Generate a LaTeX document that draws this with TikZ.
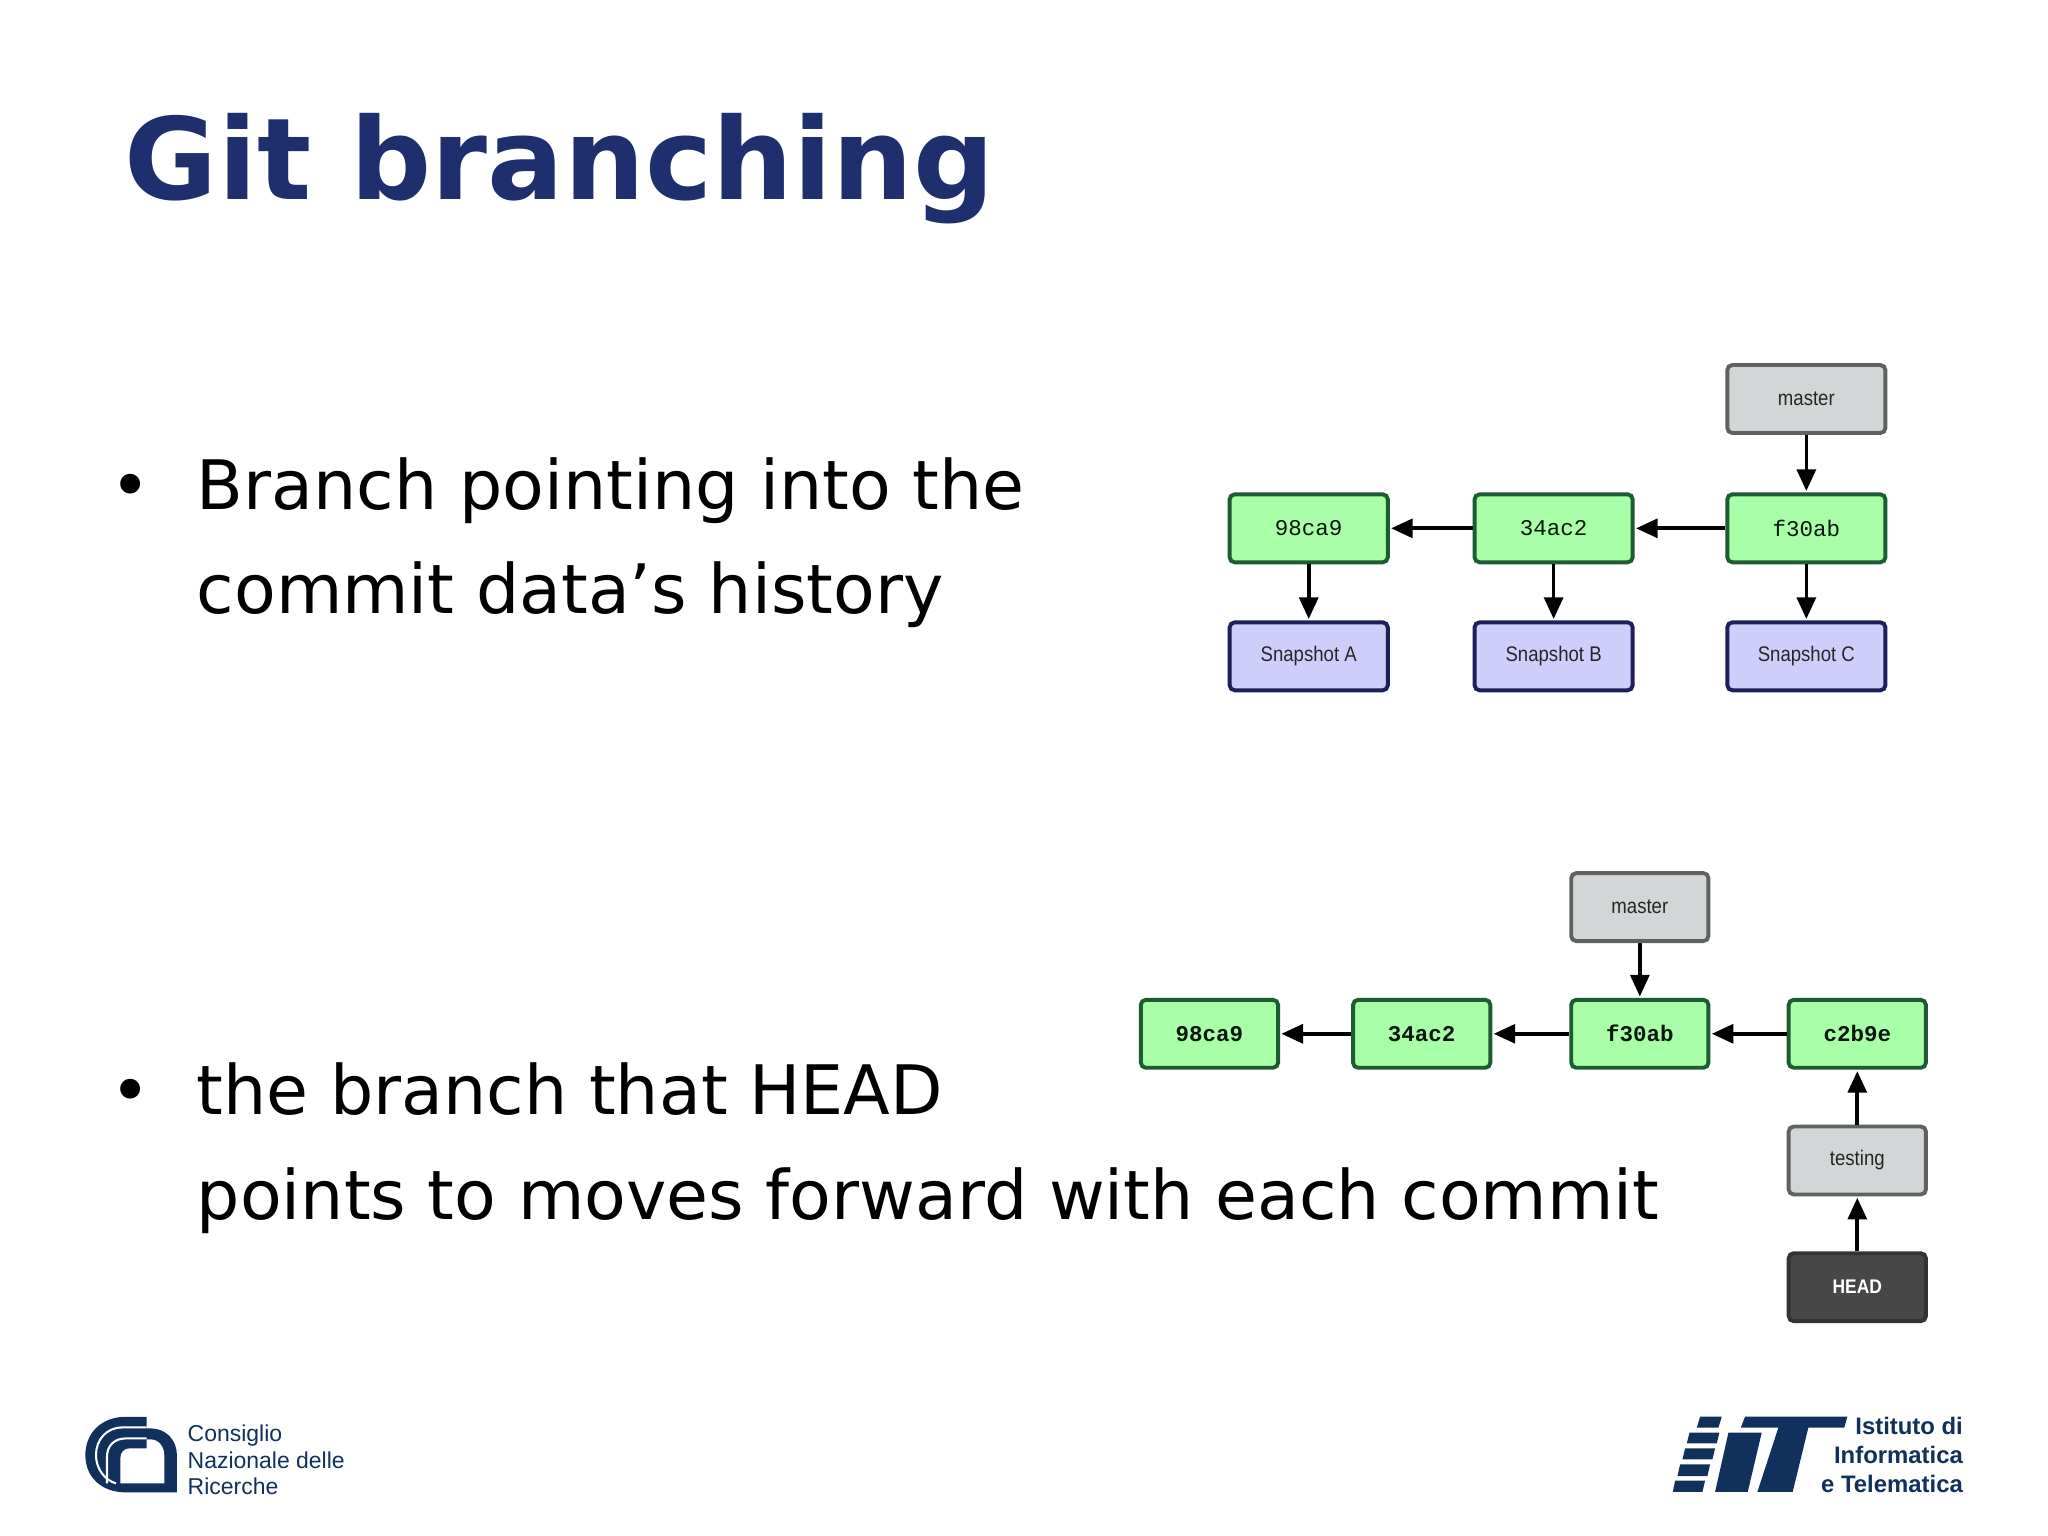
\documentclass[tikz,border=0pt]{standalone}
\usepackage{fontspec}
\setmainfont{DejaVu Sans}
\newfontfamily\boxsans[FakeStretch=.88]{Liberation Sans}
\newfontfamily\logosans{Liberation Sans}
\newfontfamily\boxmono{Liberation Mono}
\usetikzlibrary{arrows.meta}
\definecolor{titleblue}{HTML}{1F2F6E}
\definecolor{logoblue}{HTML}{12305C}
\definecolor{cgreen}{HTML}{A8FFA8}
\definecolor{cgreend}{HTML}{1E5A32}
\definecolor{cblue}{HTML}{CFCEFB}
\definecolor{cblued}{HTML}{1E1E5A}
\definecolor{cgray}{HTML}{D2D6D6}
\definecolor{cgrayd}{HTML}{606262}
\definecolor{cdark}{HTML}{474747}
\definecolor{cdarkd}{HTML}{333333}
\tikzset{
  bx/.style={draw,line width=.85pt,rounded corners=1.1pt,inner sep=0pt,minimum height=.52cm},
  wide/.style={minimum width=1.21cm},
  narrow/.style={minimum width=1.05cm},
  commit/.style={bx,fill=cgreen,draw=cgreend,text=black!75!cgreend,font=\boxmono\fontsize{4.9}{5}\selectfont},
  commitb/.style={commit,font=\boxmono\fontsize{4.9}{5}\selectfont\bfseries},
  snap/.style={bx,fill=cblue,draw=cblued,text=black!85,font=\boxsans\fontsize{4.6}{5}\selectfont},
  ref/.style={bx,fill=cgray,draw=cgrayd,text=black!85,font=\boxsans\fontsize{4.6}{5}\selectfont},
  headbox/.style={bx,fill=cdark,draw=cdarkd,text=white,font=\boxsans\fontsize{4.3}{5}\selectfont\bfseries},
  link/.style={draw=black,line width=.8pt,-{Triangle[length=4.7pt,width=4.1pt]},shorten >=.3pt},
  bodytext/.style={anchor=base west,inner sep=0pt,font=\fontsize{14.85}{18}\selectfont},
  logotext/.style={anchor=base west,inner sep=0pt,text=logoblue,font=\logosans\fontsize{5}{6}\selectfont},
  logotextb/.style={anchor=base east,inner sep=0pt,text=logoblue,font=\logosans\bfseries\fontsize{5.2}{6}\selectfont},
}
\begin{document}
\begin{tikzpicture}[x=.01cm,y=-.01cm]
\useasboundingbox (0,0) rectangle (1568,1176);
\fill[white] (0,0) rectangle (1568,1176);
% title
\node[anchor=base west,inner sep=0pt,text=titleblue,font=\fontsize{24.7}{28}\selectfont\bfseries] (title) at (95,153) {Git branching};
% bullets
\node[bodytext] (b1) at (84,390) {•};
\node[bodytext] (t1a) at (150,390) {Branch pointing into the};
\node[bodytext] (t1b) at (150,470) {commit data’s history};
\node[bodytext] (b2) at (84,853) {•};
\node[bodytext] (t2a) at (150,853) {the branch that HEAD};
\node[bodytext] (t2b) at (150,934) {points to moves forward with each commit};
% upper diagram
\node[ref,wide] (m1) at (1383,305.5) {master};
\node[commit,wide] (a1) at (1002,404.5) {98ca9};
\node[commit,wide] (a2) at (1189.5,404.5) {34ac2};
\node[commit,wide] (a3) at (1383,404.5) {f30ab};
\node[snap,wide] (s1) at (1002,502.5) {Snapshot A};
\node[snap,wide] (s2) at (1189.5,502.5) {Snapshot B};
\node[snap,wide] (s3) at (1383,502.5) {Snapshot C};
\draw[link] (m1) -- (a3);
\draw[link] (a3) -- (a2);
\draw[link] (a2) -- (a1);
\draw[link] (a1) -- (s1);
\draw[link] (a2) -- (s2);
\draw[link] (a3) -- (s3);
% lower diagram
\node[ref,narrow] (m2) at (1255.5,694.5) {master};
\node[commitb,narrow] (c1) at (926,791.5) {98ca9};
\node[commitb,narrow] (c2) at (1088.5,791.5) {34ac2};
\node[commitb,narrow] (c3) at (1255.5,791.5) {f30ab};
\node[commitb,narrow] (c4) at (1422,791.5) {c2b9e};
\node[ref,narrow] (tt) at (1422,888.5) {testing};
\node[headbox,narrow] (hd) at (1422,985.5) {HEAD};
\draw[link] (m2) -- (c3);
\draw[link] (c4) -- (c3);
\draw[link] (c3) -- (c2);
\draw[link] (c2) -- (c1);
\draw[link] (tt) -- (c4);
\draw[link] (hd) -- (tt);
% CNR logo
\begin{scope}[shift={(58.2,1075.8)},x=.002552cm,y=-.002552cm]
  \fill[logoblue] (212,35) -- (150,35) .. controls (75,35) and (28,85) .. (28,150) .. controls (28,215) and (75,262) .. (150,262) -- (303,262) -- (303,150) .. controls (303,105) and (270,70) .. (225,70) -- (212,70) -- cycle;
  \fill[white] (133,235) -- (265,235) -- (265,150) .. controls (265,125) and (248,103) .. (225,103) -- (212,103) -- (212,130) -- (160,130) .. controls (145,130) and (133,142) .. (133,160) -- cycle;
  \draw[white,line width=.45pt] (212,67) -- (140,67) .. controls (90,67) and (60,105) .. (60,150) .. controls (60,190) and (85,225) .. (120,235);
  \draw[white,line width=.45pt] (212,100) -- (150,100) .. controls (115,100) and (93,122) .. (93,155) -- (93,235);
\end{scope}
\node[logotext] (cnr1) at (143,1104) {Consiglio};
\node[logotext] (cnr2) at (143,1124) {Nazionale delle};
\node[logotext] (cnr3) at (143,1144) {Ricerche};
% IIT logo
\begin{scope}[shift={(1263.4,1064.3)},x=.002552cm,y=-.002552cm]
  \fill[logoblue] (150,80) -- (215,80) -- (205,113) -- (140,113) -- cycle;
  \fill[logoblue] (118,128) -- (208,128) -- (200,160) -- (110,160) -- cycle;
  \fill[logoblue] (105,175) -- (195,175) -- (187,208) -- (97,208) -- cycle;
  \fill[logoblue] (90,223) -- (180,223) -- (172,258) -- (82,258) -- cycle;
  \fill[logoblue] (75,272) -- (165,272) -- (157,306) -- (68,306) -- cycle;
  \fill[logoblue] (235,128) -- (335,128) -- (293,306) -- (195,306) -- cycle;
  \fill[logoblue] (285,80) -- (592,80) -- (583,113) -- (475,113) -- (428,306) -- (322,306) -- (385,113) -- (272,113) -- cycle;
\end{scope}
\node[logotextb] (iit1) at (1503.5,1098.5) {Istituto di};
\node[logotextb] (iit2) at (1503.5,1120.5) {Informatica};
\node[logotextb] (iit3) at (1503.5,1142.5) {e Telematica};
\end{tikzpicture}
\end{document}
